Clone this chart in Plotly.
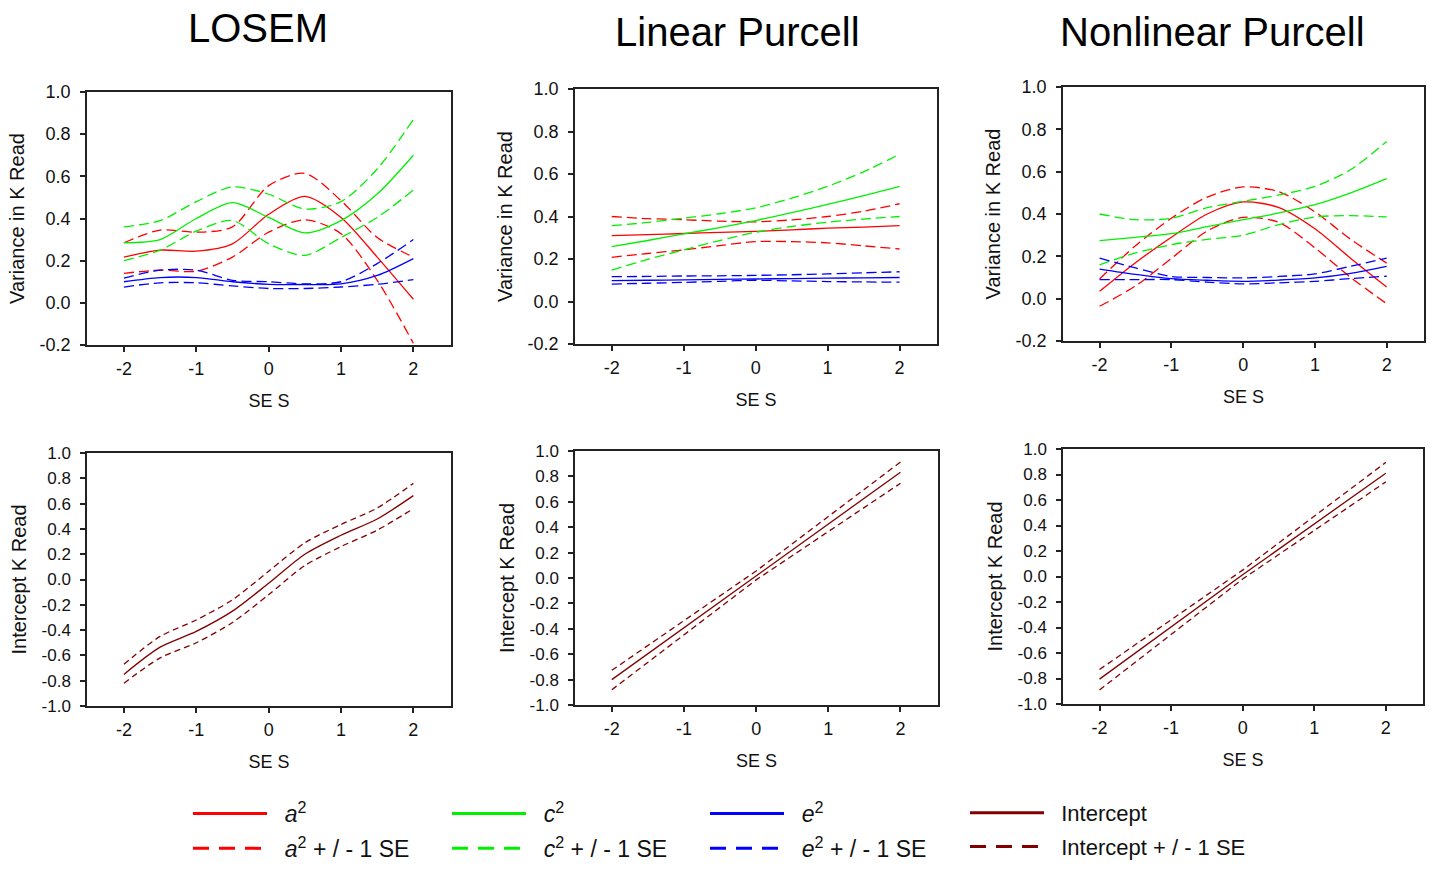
import plotly.graph_objects as go

# ---------------- data ----------------
ses9 = [-2, -1.5, -1, -0.5, 0, 0.5, 1, 1.5, 2]
ses3 = [-2, 0, 2]

# LOSEM (variance)
losem_a2 = [0.217, 0.25, 0.245, 0.28, 0.42, 0.505, 0.405, 0.217, 0.017]
losem_a2_hi = [0.285, 0.345, 0.335, 0.36, 0.556, 0.614, 0.485, 0.31, 0.217]
losem_a2_lo = [0.14, 0.155, 0.15, 0.217, 0.335, 0.394, 0.328, 0.107, -0.192]
losem_c2 = [0.285, 0.30, 0.40, 0.475, 0.405, 0.332, 0.39, 0.516, 0.70]
losem_c2_hi = [0.36, 0.39, 0.48, 0.55, 0.515, 0.445, 0.48, 0.635, 0.87]
losem_c2_lo = [0.20, 0.25, 0.34, 0.39, 0.28, 0.225, 0.31, 0.405, 0.535]
losem_e2 = [0.10, 0.12, 0.12, 0.10, 0.088, 0.087, 0.09, 0.13, 0.21]
losem_e2_hi = [0.117, 0.155, 0.155, 0.107, 0.10, 0.09, 0.10, 0.186, 0.30]
losem_e2_lo = [0.075, 0.095, 0.095, 0.08, 0.068, 0.068, 0.075, 0.088, 0.11]

# Linear Purcell (variance)
lin_a2 = [0.31, 0.315, 0.32, 0.325, 0.33, 0.337, 0.345, 0.35, 0.357]
lin_a2_hi = [0.40, 0.39, 0.385, 0.378, 0.375, 0.384, 0.40, 0.425, 0.46]
lin_a2_lo = [0.208, 0.226, 0.243, 0.263, 0.282, 0.282, 0.276, 0.262, 0.247]
lin_c2 = [0.258, 0.287, 0.318, 0.348, 0.381, 0.418, 0.457, 0.498, 0.542]
lin_c2_hi = [0.357, 0.372, 0.392, 0.413, 0.441, 0.486, 0.542, 0.61, 0.693]
lin_c2_lo = [0.148, 0.198, 0.243, 0.287, 0.326, 0.353, 0.373, 0.388, 0.40]
lin_e2 = [0.098, 0.1, 0.102, 0.104, 0.106, 0.108, 0.11, 0.111, 0.113]
lin_e2_hi = [0.117, 0.118, 0.12, 0.121, 0.123, 0.126, 0.13, 0.135, 0.14]
lin_e2_lo = [0.082, 0.086, 0.09, 0.095, 0.10, 0.097, 0.094, 0.092, 0.091]

# Nonlinear Purcell (variance)
non_a2 = [0.035, 0.17, 0.29, 0.40, 0.457, 0.43, 0.33, 0.19, 0.055]
non_a2_hi = [0.093, 0.25, 0.38, 0.48, 0.528, 0.505, 0.41, 0.28, 0.168]
non_a2_lo = [-0.036, 0.06, 0.19, 0.32, 0.384, 0.36, 0.24, 0.10, -0.024]
non_c2 = [0.274, 0.29, 0.307, 0.34, 0.373, 0.405, 0.444, 0.50, 0.567]
non_c2_hi = [0.40, 0.373, 0.38, 0.43, 0.46, 0.49, 0.53, 0.61, 0.743]
non_c2_lo = [0.16, 0.216, 0.255, 0.28, 0.30, 0.35, 0.386, 0.392, 0.386]
non_e2 = [0.14, 0.115, 0.095, 0.087, 0.082, 0.088, 0.098, 0.12, 0.153]
non_e2_hi = [0.192, 0.145, 0.105, 0.10, 0.098, 0.105, 0.117, 0.153, 0.192]
non_e2_lo = [0.09, 0.09, 0.09, 0.078, 0.07, 0.075, 0.082, 0.095, 0.106]

# Intercepts
losem_int = [-0.75, -0.535, -0.41, -0.25, -0.03, 0.20, 0.35, 0.478, 0.663]
losem_int_hi = [-0.67, -0.45, -0.32, -0.16, 0.065, 0.29, 0.435, 0.565, 0.76]
losem_int_lo = [-0.82, -0.62, -0.50, -0.34, -0.12, 0.11, 0.26, 0.39, 0.56]
lin_int = [-0.80, 0.02, 0.833]
lin_int_hi = [-0.727, 0.055, 0.913]
lin_int_lo = [-0.88, -0.015, 0.746]
non_int = [-0.805, 0.013, 0.81]
non_int_hi = [-0.73, 0.05, 0.895]
non_int_lo = [-0.89, -0.02, 0.742]

titles = ["LOSEM", "Linear Purcell", "Nonlinear Purcell"]
y_tick_top = [-0.2, 0.0, 0.2, 0.4, 0.6, 0.8, 1.0]
y_tick_bot = [-1.0, -0.8, -0.6, -0.4, -0.2, 0.0, 0.2, 0.4, 0.6, 0.8, 1.0]
x_ticks = [-2, -1, 0, 1, 2]

RED, GREEN, BLUE, MAROON = "#FF0000", "#00F000", "#0000FF", "#800000"
DASH_TOP = "10px,5px"
DASH_BOT = "6px,4px"
FONT = "Liberation Sans, Arial, sans-serif"

fig = go.Figure()

W, H = 1436, 872
# panel boxes in pixels (left, right, top, bottom)
boxes = [
    (87, 451, 92, 345), (575, 937, 89, 344), (1063, 1424, 87, 341),
    (87, 451, 453, 706), (575, 938, 451, 705), (1063, 1423, 449, 704),
]

top_sets = [
    (losem_a2, losem_a2_hi, losem_a2_lo, losem_c2, losem_c2_hi, losem_c2_lo, losem_e2, losem_e2_hi, losem_e2_lo),
    (lin_a2, lin_a2_hi, lin_a2_lo, lin_c2, lin_c2_hi, lin_c2_lo, lin_e2, lin_e2_hi, lin_e2_lo),
    (non_a2, non_a2_hi, non_a2_lo, non_c2, non_c2_hi, non_c2_lo, non_e2, non_e2_hi, non_e2_lo),
]
bot_sets = [
    (ses9, losem_int, losem_int_hi, losem_int_lo),
    (ses3, lin_int, lin_int_hi, lin_int_lo),
    (ses3, non_int, non_int_hi, non_int_lo),
]

def add(x, y, color, dash, ax, width=1.3, shape="spline"):
    fig.add_trace(go.Scatter(
        x=x, y=y, mode="lines", showlegend=False, hoverinfo="skip",
        line=dict(color=color, width=width, dash=dash, shape=shape, smoothing=0.8),
        xaxis="x" + ("" if ax == 1 else str(ax)), yaxis="y" + ("" if ax == 1 else str(ax)),
    ))

for i, s in enumerate(top_sets):
    ax = i + 1
    colors = [RED, RED, RED, GREEN, GREEN, GREEN, BLUE, BLUE, BLUE]
    for j, series in enumerate(s):
        add(ses9, series, colors[j], "solid" if j % 3 == 0 else DASH_TOP, ax)

for i, (xs, mid, hi, lo) in enumerate(bot_sets):
    ax = i + 4
    shp = "spline" if len(xs) > 3 else "linear"
    add(xs, mid, MAROON, "solid", ax, shape=shp)
    add(xs, hi, MAROON, DASH_BOT, ax, shape=shp)
    add(xs, lo, MAROON, DASH_BOT, ax, shape=shp)

# legend entries (legend-only samples, thicker lines like the reference)
legend_items = [
    ("legend", "<i>a</i><sup>2</sup>", "<i>a</i><sup>2</sup> + / - 1 SE", RED),
    ("legend2", "<i>c</i><sup>2</sup>", "<i>c</i><sup>2</sup> + / - 1 SE", GREEN),
    ("legend3", "<i>e</i><sup>2</sup>", "<i>e</i><sup>2</sup> + / - 1 SE", BLUE),
    ("legend4", "Intercept", "Intercept + / - 1 SE", MAROON),
]
for lg, name1, name2, col in legend_items:
    fig.add_trace(go.Scatter(x=[None], y=[None], mode="lines", name="\u00a0\u00a0" + name1,
                             legend=lg, line=dict(color=col, width=3), legendgroup=lg + "a"))
    fig.add_trace(go.Scatter(x=[None], y=[None], mode="lines", name="\u00a0\u00a0" + name2,
                             legend=lg, line=dict(color=col, width=3, dash="16px,10px"),
                             legendgroup=lg + "b"))

layout = dict(
    width=W, height=H, margin=dict(l=0, r=0, t=0, b=0, autoexpand=False),
    paper_bgcolor="white", plot_bgcolor="white",
    font=dict(family=FONT, color="#111111"),
    showlegend=True,
)

axis_common = dict(showline=True, mirror=True, linecolor="#222222", linewidth=1.5,
                   ticks="outside", ticklen=5, tickwidth=1.5, tickcolor="#222222",
                   showgrid=False, zeroline=False, automargin=False,
                   tickfont=dict(family=FONT, size=18, color="#111111"))

for k, (l, r, t, b) in enumerate(boxes):
    n = k + 1
    suf = "" if n == 1 else str(n)
    top = n <= 3
    layout["xaxis" + suf] = dict(
        axis_common, domain=[l / W, r / W], range=[-2.51, 2.52],
        tickvals=x_ticks, ticktext=[str(v) for v in x_ticks],
        anchor="y" + suf, ticklabelstandoff=2,
        title=dict(text="SE S", font=dict(size=18, family=FONT), standoff=16),
    )
    layout["yaxis" + suf] = dict(
        axis_common, domain=[1 - b / H, 1 - t / H],
        range=[-0.2, 1.0] if top else [-1.0, 1.0],
        tickvals=y_tick_top if top else y_tick_bot,
        ticktext=[f"{v:.1f}" for v in (y_tick_top if top else y_tick_bot)],
        anchor="x" + suf, ticklabelstandoff=6,
        tickfont=dict(family=FONT, size=18 if top else 17, color="#111111"),
        title=dict(text="Variance in K Read" if top else "Intercept K Read",
                   font=dict(size=20, family=FONT), standoff=10),
    )

legend_x = [188, 447, 705, 965]
for idx, (lg, *_r) in enumerate(legend_items):
    layout[lg] = dict(
        x=legend_x[idx] / W, y=1 - 792 / H, xanchor="left", yanchor="top",
        orientation="v", itemwidth=74, tracegroupgap=2,
        bgcolor="rgba(0,0,0,0)", borderwidth=0,
        font=dict(family=FONT, size=23 if idx < 3 else 22, color="#111111"),
        itemclick=False, itemdoubleclick=False,
    )

annotations = []
title_pos = [(258, 28), (737, 32), (1212, 32)]
for t, (px, py) in zip(titles, title_pos):
    annotations.append(dict(text=t, x=px / W, y=1 - py / H, xref="paper", yref="paper",
                            xanchor="center", yanchor="middle", showarrow=False,
                            font=dict(family=FONT, size=40, color="#000000")))
layout["annotations"] = annotations

fig.update_layout(**layout)
fig.write_html("out.html")
